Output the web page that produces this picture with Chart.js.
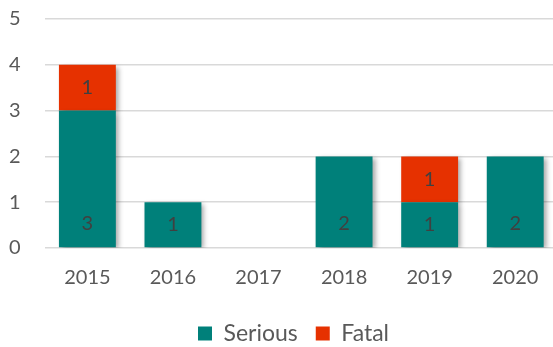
<!DOCTYPE html>
<html>
<head>
<meta charset="utf-8">
<script src="https://cdn.jsdelivr.net/npm/chart.js@4.4.1/dist/chart.umd.min.js"></script>
<style>
  html, body { margin: 0; padding: 0; background: #fff; overflow: hidden; }
  #wrap { position: absolute; left: -15px; top: -17px; width: 573px; height: 372px; }
</style>
</head>
<body>
<div id="wrap"><canvas id="myChart"></canvas></div>
<script>
// Dades: incidents per any
const years = ['2015', '2016', '2017', '2018', '2019', '2020'];
const serious = [3, 1, 0, 2, 1, 2];
const fatal = [1, 0, 0, 0, 1, 0];
const yTicks = [0, 1, 2, 3, 4, 5];

const FONT = 'Lato, "Open Sans", sans-serif';
const GREY = '#595959';

// Ombra suau a les barres
const shadowPlugin = {
  id: 'barShadow',
  beforeDatasetDraw(chart) {
    const ctx = chart.ctx;
    ctx.save();
    ctx.shadowColor = 'rgba(0,0,0,0.35)';
    ctx.shadowBlur = 5;
    ctx.shadowOffsetX = 3;
    ctx.shadowOffsetY = 2;
  },
  afterDatasetDraw(chart) {
    chart.ctx.restore();
  }
};

// La llegenda va una mica desplaçada a la dreta
const legendShift = {
  id: 'legendShift',
  afterLayout(chart) {
    chart.legend.left += 22;
    chart.legend.right += 22;
  }
};

// Etiquetes de valor dins de les barres
const labelPlugin = {
  id: 'barLabels',
  afterDatasetsDraw(chart) {
    const ctx = chart.ctx;
    ctx.save();
    ctx.font = '20px ' + FONT;
    ctx.fillStyle = '#404040';
    ctx.textAlign = 'center';
    ctx.textBaseline = 'middle';
    chart.data.datasets.forEach((ds, i) => {
      const meta = chart.getDatasetMeta(i);
      meta.data.forEach((bar, j) => {
        const v = ds.data[j];
        if (!v) return;
        let y;
        if (i === 0) {
          // base de la barra
          y = Math.max(bar.base - 24, (bar.y + bar.base) / 2);
        } else {
          y = (bar.y + bar.base) / 2;
        }
        ctx.fillText(String(v), bar.x, y);
      });
    });
    ctx.restore();
  }
};

const ctx = document.getElementById('myChart').getContext('2d');
new Chart(ctx, {
  type: 'bar',
  data: {
    labels: years,
    datasets: [
      { label: 'Serious', data: serious, backgroundColor: '#00807A' },
      { label: 'Fatal', data: fatal, backgroundColor: '#E63100' }
    ]
  },
  options: {
    responsive: true,
    maintainAspectRatio: false,
    animation: false,
    layout: { padding: { top: -3, left: 0, right: 0, bottom: 0 } },
    datasets: { bar: { categoryPercentage: 1, barPercentage: 0.665 } },
    scales: {
      x: {
        stacked: true,
        grid: { display: false },
        border: { display: false },
        ticks: { color: GREY, font: { family: FONT, size: 20 }, padding: 10 },
        afterFit(axis) { axis.height += 4; }
      },
      y: {
        stacked: true,
        min: 0,
        max: 5,
        afterBuildTicks(axis) { axis.ticks = yTicks.map(v => ({ value: v })); },
        grid: { color: '#d9d9d9', lineWidth: 1.5, drawTicks: false },
        border: { display: false },
        ticks: { color: GREY, font: { family: FONT, size: 20 }, padding: 24 }
      }
    },
    plugins: {
      legend: {
        position: 'bottom',
        labels: {
          color: GREY,
          font: { family: FONT, size: 23 },
          boxWidth: 14,
          boxHeight: 14,
          padding: 18
        }
      },
      tooltip: { enabled: false }
    }
  },
  plugins: [shadowPlugin, legendShift, labelPlugin]
});
</script>
</body>
</html>
